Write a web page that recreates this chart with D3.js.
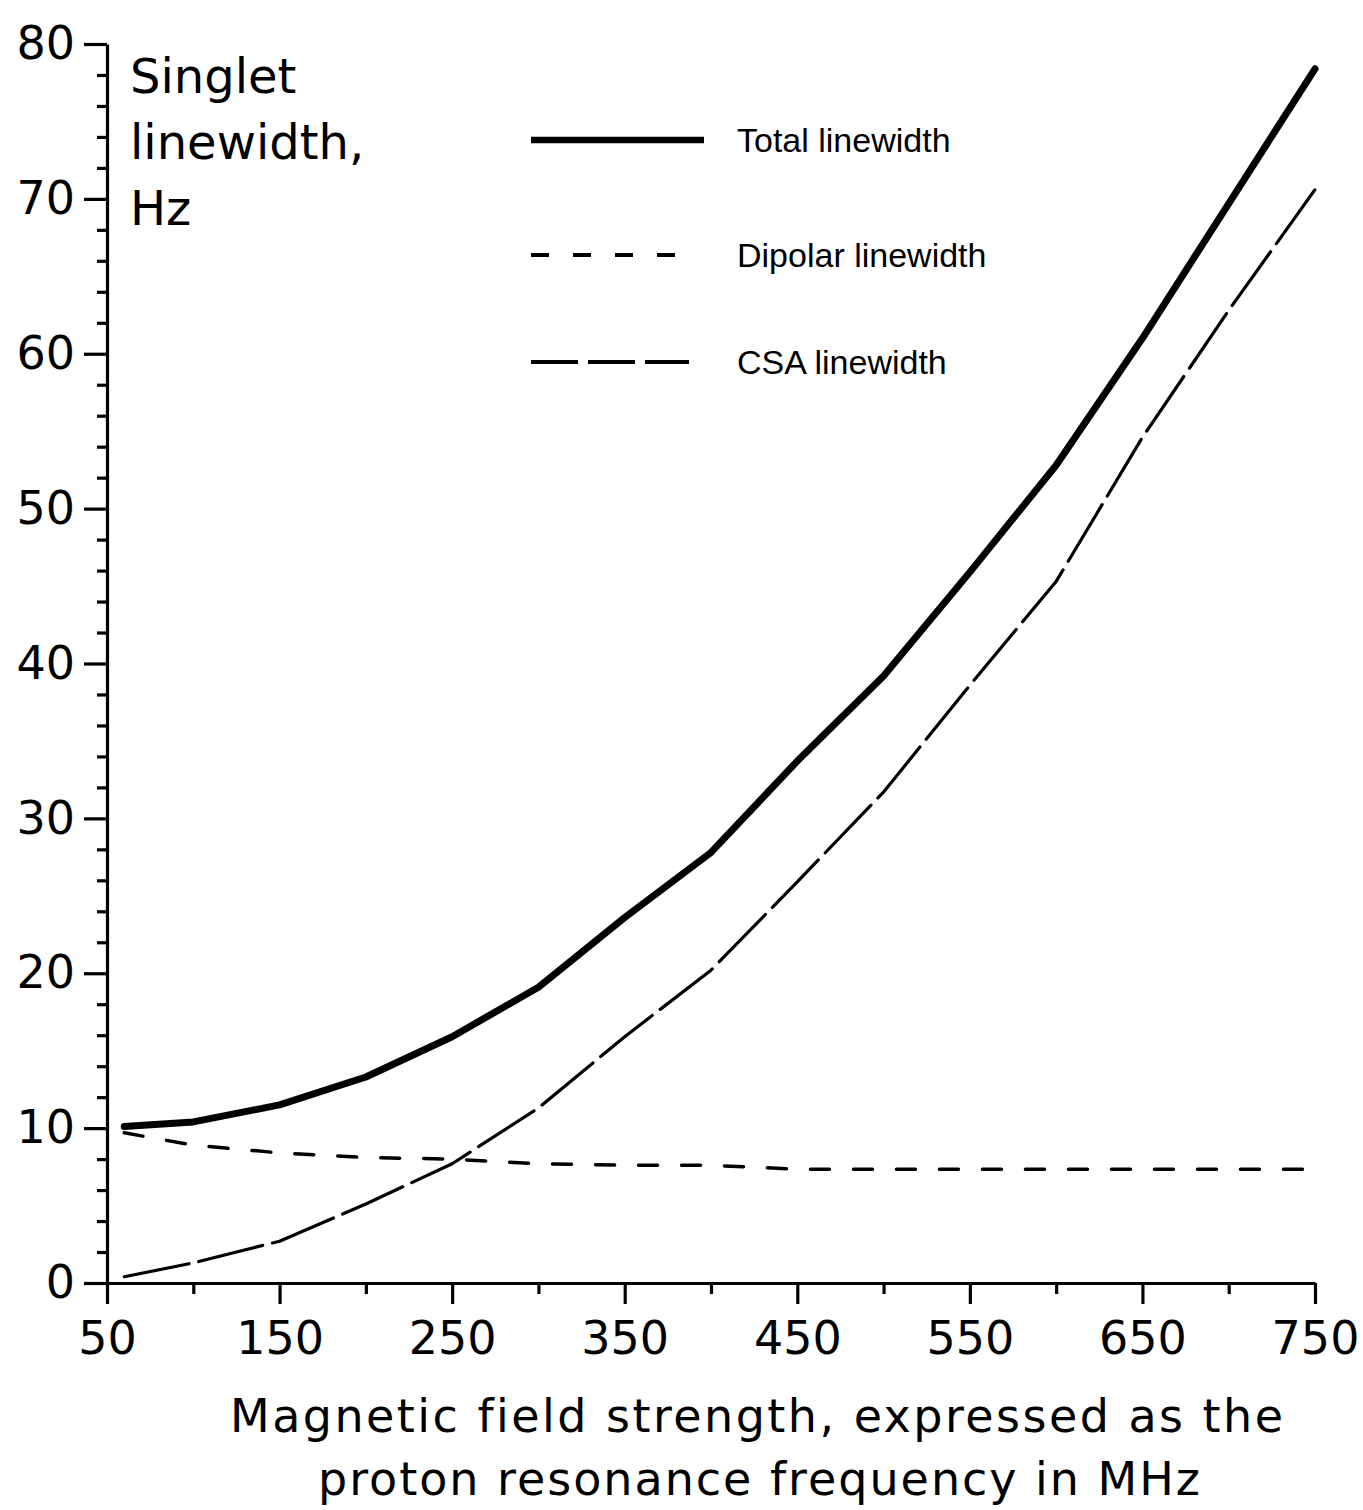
<!doctype html>
<html lang="en">

<head>
  <meta charset="utf-8">
  <title>Singlet linewidth vs field</title>
  <style>
    * { margin: 0; padding: 0; box-sizing: border-box; }
    body { background: #fff; }
    #container { width: 1363px; height: 1510px; }
    .tick text { font-family: "DejaVu Sans", sans-serif; fill: #000; }
    .legend text { font-family: "Liberation Sans", Arial, sans-serif; font-size: 34px; fill: #000; }
    .title text { font-family: "DejaVu Sans", sans-serif; fill: #000; font-variant-ligatures: none; }
  </style>
</head>

<body>
  <div id="container"></div>
  <script src="https://cdn.jsdelivr.net/npm/d3@7"></script>
  <script>
    // proton frequency (MHz) and the three linewidths (Hz)
    const freqs   = [60, 100, 150, 200, 250, 300, 350, 400, 450, 500, 550, 600, 650, 700, 750];
    const total   = [10.1, 10.4, 11.5, 13.3, 15.9, 19.1, 23.6, 27.8, 33.7, 39.2, 45.9, 52.8, 61.0, 69.7, 78.4];
    const dipolar = [9.7, 8.9, 8.4, 8.1, 8.0, 7.7, 7.6, 7.6, 7.35, 7.35, 7.35, 7.35, 7.35, 7.35, 7.35];
    const csa     = [0.4, 1.3, 2.7, 5.1, 7.7, 11.3, 15.9, 20.2, 25.9, 31.7, 38.6, 45.3, 54.6, 62.8, 70.6];

    const xMajor = [50, 150, 250, 350, 450, 550, 650, 750];
    const xMinor = [100, 200, 300, 400, 500, 600, 700];
    const yMajor = [0, 10, 20, 30, 40, 50, 60, 70, 80];
    const yMinor = d3.range(0, 81, 2).filter(v => v % 10 !== 0);

    const series = [
      {name: 'Total linewidth', values: total, width: 7, dash: null},
      {name: 'Dipolar linewidth', values: dipolar, width: 3.5, dash: '19,24'},
      {name: 'CSA linewidth', values: csa, width: 3.2, dash: '66,10'}
    ];

    const svg = d3.select('#container').append('svg')
      .attr('width', 1363)
      .attr('height', 1510);

    const x = d3.scaleLinear().domain([50, 750]).range([107, 1315]);
    const y = d3.scaleLinear().domain([0, 80]).range([1283, 44]);

    // axes
    const gx = svg.append('g').attr('transform', `translate(0,${y(0)})`);
    gx.call(d3.axisBottom(x).tickValues(xMajor).tickSize(21).tickSizeOuter(0).tickPadding(17));
    gx.selectAll('.tick text').attr('font-size', 46);
    const gxm = svg.append('g').attr('transform', `translate(0,${y(0)})`);
    gxm.call(d3.axisBottom(x).tickValues(xMinor).tickSize(11).tickFormat(''));
    gxm.select('.domain').remove();

    const gy = svg.append('g').attr('transform', `translate(${x(50)},0)`);
    gy.call(d3.axisLeft(y).tickValues(yMajor).tickSize(23).tickSizeOuter(0).tickPadding(9));
    gy.selectAll('.tick text').attr('font-size', 46);
    const gym = svg.append('g').attr('transform', `translate(${x(50)},0)`);
    gym.call(d3.axisLeft(y).tickValues(yMinor).tickSize(10).tickFormat(''));
    gym.select('.domain').remove();

    svg.selectAll('.domain').attr('stroke', '#000').attr('stroke-width', 3.2);
    svg.selectAll('.tick line').attr('stroke', '#000').attr('stroke-width', 3.2);

    // curves
    const line = d3.line()
      .x((d, i) => x(freqs[i]))
      .y(d => y(d));

    svg.selectAll('path.curve')
      .data(series)
      .enter()
      .append('path')
      .attr('class', 'curve')
      .attr('d', d => line(d.values))
      .attr('fill', 'none')
      .attr('stroke', '#000')
      .attr('stroke-width', d => d.width)
      .attr('stroke-linecap', 'round')
      .attr('stroke-linejoin', 'round')
      .attr('stroke-dasharray', d => d.dash);

    // legend
    const legendY = [140, 255, 362];
    const legendDash = [null, '18,24', '47,10'];
    const legendLen = [173, 145, 158];
    const legend = svg.append('g').attr('class', 'legend');
    series.forEach((s, i) => {
      legend.append('line')
        .attr('x1', 531).attr('x2', 531 + legendLen[i])
        .attr('y1', legendY[i]).attr('y2', legendY[i])
        .attr('stroke', '#000')
        .attr('stroke-width', i === 0 ? 6.5 : 3.8)
        .attr('stroke-dasharray', legendDash[i]);
      legend.append('text')
        .attr('x', 737)
        .attr('y', legendY[i] + 12)
        .text(s.name);
    });

    // y title
    const title = svg.append('g').attr('class', 'title');
    ['Singlet', 'linewidth,', 'Hz'].forEach((t, i) => {
      title.append('text')
        .attr('x', 130)
        .attr('y', 93 + i * 66)
        .attr('font-size', 48)
        .text(t);
    });

    // x title
    const xTitle = ['Magnetic field strength, expressed as the', 'proton resonance frequency in MHz'];
    const xTitleSpan = [[230, 1283], [318, 1200]];
    xTitle.forEach((t, i) => {
      title.append('text')
        .attr('x', xTitleSpan[i][0])
        .attr('y', 1432 + i * 63)
        .attr('font-size', 46)
        .attr('textLength', xTitleSpan[i][1] - xTitleSpan[i][0])
        .attr('lengthAdjust', 'spacing')
        .text(t);
    });
  </script>
</body>

</html>
